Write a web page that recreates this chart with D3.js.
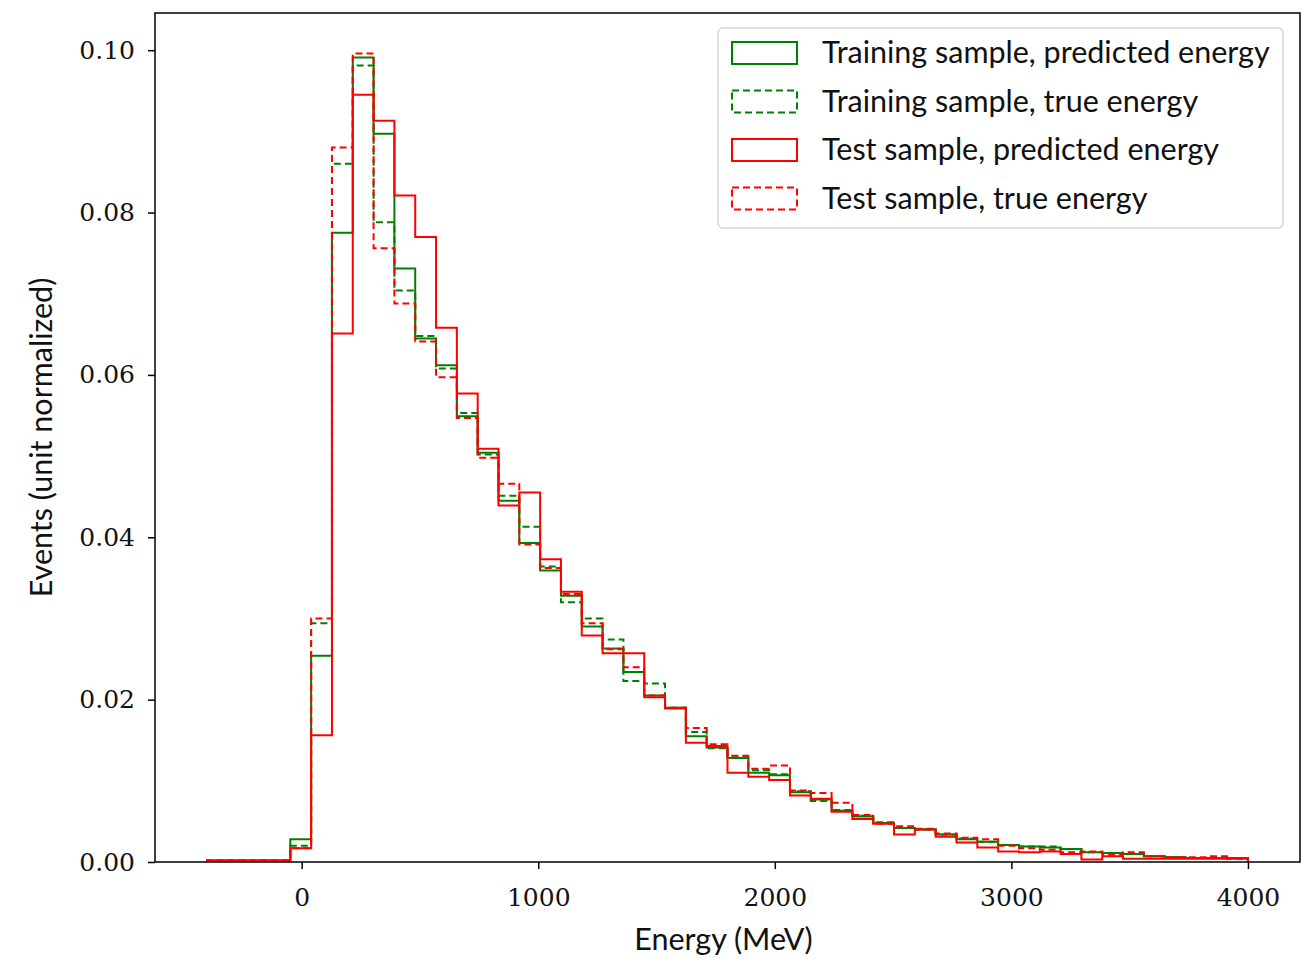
<!DOCTYPE html>
<html>
<head>
<meta charset="utf-8">
<script src="https://cdn.jsdelivr.net/npm/d3@7"></script>
<style>
    body { margin: 0; background: #fff; }
    .tick-label { font-family: "DejaVu Serif", serif; font-size: 25px; fill: #111; }
    .axis-label { font-family: "Lato", "Open Sans", sans-serif; font-size: 30.5px; fill: #111; }
    .legend-label { font-family: "Lato", "Open Sans", sans-serif; font-size: 30.5px; fill: #111; }
</style>
</head>
<body>
<div id="hist"></div>
<script>
// histogram bin edges (MeV), 50 bins from -400 to 4000
const binEdges = [-400, -312, -224, -136, -48, 40, 128, 216, 304, 392, 480, 568, 656, 744, 832, 920,
    1008, 1096, 1184, 1272, 1360, 1448, 1536, 1624, 1712, 1800, 1888, 1976, 2064, 2152, 2240, 2328,
    2416, 2504, 2592, 2680, 2768, 2856, 2944, 3032, 3120, 3208, 3296, 3384, 3472, 3560, 3648, 3736,
    3824, 3912, 4000]

// unit-normalized bin contents
const trainPredicted = [0.0002, 0.0002, 0.0002, 0.0002, 0.0028, 0.0254, 0.0775, 0.0991, 0.0897, 0.0731,
    0.0645, 0.0612, 0.0549, 0.0504, 0.0445, 0.0393, 0.0359, 0.0328, 0.0290, 0.0263,
    0.0234, 0.0205, 0.0190, 0.0155, 0.0141, 0.0128, 0.0110, 0.0107, 0.0086, 0.0077,
    0.0063, 0.0056, 0.0048, 0.0042, 0.0040, 0.0034, 0.0028, 0.0025, 0.0021, 0.0019,
    0.0018, 0.0016, 0.0012, 0.0011, 0.0010, 0.0007, 0.0006, 0.0005, 0.0005, 0.0004]
const trainTrue = [0.0002, 0.0002, 0.0002, 0.0002, 0.0020, 0.0294, 0.0860, 0.0981, 0.0788, 0.0704,
    0.0648, 0.0608, 0.0553, 0.0502, 0.0451, 0.0413, 0.0364, 0.0320, 0.0300, 0.0274,
    0.0223, 0.0220, 0.0190, 0.0160, 0.0140, 0.0129, 0.0113, 0.0108, 0.0087, 0.0075,
    0.0064, 0.0057, 0.0049, 0.0042, 0.0040, 0.0034, 0.0029, 0.0025, 0.0021, 0.0019,
    0.0019, 0.0016, 0.0012, 0.0011, 0.0010, 0.0007, 0.0006, 0.0005, 0.0005, 0.0004]
const testPredicted = [0.0002, 0.0002, 0.0002, 0.0002, 0.0017, 0.0156, 0.0651, 0.0945, 0.0913, 0.0821,
    0.0770, 0.0658, 0.0577, 0.0509, 0.0439, 0.0455, 0.0373, 0.0333, 0.0279, 0.0257,
    0.0257, 0.0203, 0.0189, 0.0147, 0.0143, 0.0110, 0.0105, 0.0101, 0.0082, 0.0078,
    0.0062, 0.0053, 0.0047, 0.0034, 0.0040, 0.0031, 0.0024, 0.0018, 0.0013, 0.0012,
    0.0013, 0.0010, 0.0003, 0.0007, 0.0004, 0.0004, 0.0004, 0.0004, 0.0004, 0.0005]
const testTrue = [0.0002, 0.0002, 0.0002, 0.0002, 0.0017, 0.0300, 0.0880, 0.0996, 0.0756, 0.0688,
    0.0641, 0.0597, 0.0547, 0.0498, 0.0466, 0.0391, 0.0362, 0.0330, 0.0294, 0.0262,
    0.0240, 0.0205, 0.0190, 0.0165, 0.0145, 0.0131, 0.0115, 0.0119, 0.0088, 0.0085,
    0.0073, 0.0058, 0.0047, 0.0044, 0.0041, 0.0035, 0.0030, 0.0028, 0.0020, 0.0017,
    0.0015, 0.0012, 0.0013, 0.0009, 0.0012, 0.0007, 0.0006, 0.0006, 0.0007, 0.0005]

const seriesNames = ["Training sample, predicted energy", "Training sample, true energy",
    "Test sample, predicted energy", "Test sample, true energy"]

const xTicks = [0, 1000, 2000, 3000, 4000]
const yTicks = [0.00, 0.02, 0.04, 0.06, 0.08, 0.10]

const drawHist = () => {
    var width = 1302,
        height = 961;
    const margin = ({ top: 13, right: 2, bottom: 99, left: 155 })

    var svg = d3.select("#hist").append("svg")
        .attr("width", width)
        .attr("height", height)

    // matplotlib style 5% padding around the data
    var xScale = d3.scaleLinear()
        .domain([-620, 4220])
        .range([margin.left, width - margin.right])
    var yScale = d3.scaleLinear()
        .domain([0, 0.10458])
        .range([height - margin.bottom, margin.top])

    const series = [
        { name: seriesNames[0], values: trainPredicted, color: "#008000", dash: null },
        { name: seriesNames[1], values: trainTrue, color: "#008000", dash: "7,4" },
        { name: seriesNames[2], values: testPredicted, color: "#ff0000", dash: null },
        { name: seriesNames[3], values: testTrue, color: "#ff0000", dash: "7,4" }
    ]

    // step outline like histtype='step'
    const stepPoints = (vals) => {
        var pts = [[binEdges[0], 0]]
        vals.forEach((v, i) => {
            pts.push([binEdges[i], v])
            pts.push([binEdges[i + 1], v])
        })
        pts.push([binEdges[binEdges.length - 1], 0])
        return pts
    }
    const line = d3.line()
        .x(d => xScale(d[0]))
        .y(d => yScale(d[1]))

    svg.append("defs").append("clipPath").attr("id", "clip")
        .append("rect")
        .attr("x", margin.left).attr("y", margin.top)
        .attr("width", width - margin.right - margin.left)
        .attr("height", height - margin.bottom - margin.top)

    svg.append("g")
        .attr("clip-path", "url(#clip)")
        .selectAll("path")
        .data(series)
        .enter().append("path")
        .attr("d", d => line(stepPoints(d.values)))
        .attr("fill", "none")
        .attr("stroke", d => d.color)
        .attr("stroke-width", 2)
        .attr("stroke-dasharray", d => d.dash)
        .attr("stroke-linejoin", "miter")

    // axes
    var xAxis = svg.append("g")
        .attr("transform", `translate(0,${height - margin.bottom})`)
        .call(d3.axisBottom(xScale).tickValues(xTicks).tickSize(7).tickPadding(14).tickFormat(d3.format("d")))
    var yAxis = svg.append("g")
        .attr("transform", `translate(${margin.left},0)`)
        .call(d3.axisLeft(yScale).tickValues(yTicks).tickSize(7).tickPadding(13).tickFormat(d3.format(".2f")))
    for (let ax of [xAxis, yAxis]) {
        ax.select(".domain").remove()
        ax.selectAll(".tick line").attr("stroke", "#000").attr("stroke-width", 1.5)
        ax.selectAll(".tick text").attr("class", "tick-label").attr("fill", null)
    }
    xAxis.selectAll(".tick text").attr("dy", "0.9em")

    // frame
    svg.append("rect")
        .attr("x", margin.left)
        .attr("y", margin.top)
        .attr("width", width - margin.right - margin.left)
        .attr("height", height - margin.bottom - margin.top)
        .attr("fill", "none")
        .attr("stroke", "#000")
        .attr("stroke-width", 1.5)

    svg.append("text")
        .attr("class", "axis-label")
        .attr("x", (margin.left + width - margin.right) / 2 - 4)
        .attr("y", 950)
        .attr("text-anchor", "middle")
        .text("Energy (MeV)")
    svg.append("text")
        .attr("class", "axis-label")
        .attr("transform", `translate(52,${(margin.top + height - margin.bottom) / 2}) rotate(-90)`)
        .attr("text-anchor", "middle")
        .text("Events (unit normalized)")

    // legend
    var legend = svg.append("g").attr("transform", "translate(718,28)")
    legend.append("rect")
        .attr("width", 565)
        .attr("height", 200)
        .attr("rx", 5)
        .attr("fill", "#fff")
        .attr("fill-opacity", 0.8)
        .attr("stroke", "#d6d6d6")
        .attr("stroke-width", 1.5)
    var rows = legend.selectAll(".row")
        .data(series)
        .enter().append("g")
        .attr("transform", (d, i) => `translate(0,${25 + i * 48.5})`)
    rows.append("rect")
        .attr("x", 14)
        .attr("y", -11)
        .attr("width", 65)
        .attr("height", 22)
        .attr("fill", "none")
        .attr("stroke", d => d.color)
        .attr("stroke-width", 2)
        .attr("stroke-dasharray", d => d.dash)
    rows.append("text")
        .attr("class", "legend-label")
        .attr("x", 104)
        .attr("y", 10)
        .text(d => d.name)
}

drawHist()
</script>
</body>
</html>
